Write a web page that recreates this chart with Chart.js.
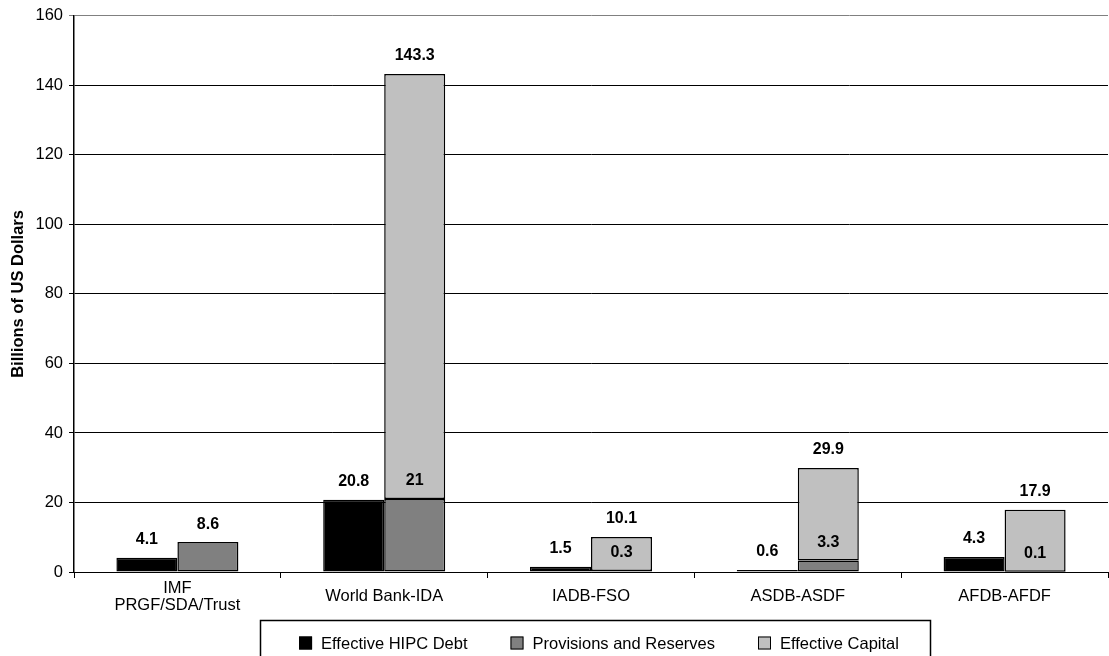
<!DOCTYPE html>
<html lang="en">
<head>
    <meta charset="UTF-8">
    <title>HIPC Debt, Provisions and Capital</title>
    <style>
        body {
            margin: 0;
            background-color: #fff;
        }
        #chart-wrapper {
            width: 1109px;
            height: 656px;
        }
    </style>
</head>
<body>

    <div id="chart-wrapper">
        <canvas id="hipcChart" width="1109" height="656"></canvas>
    </div>

    <script src="https://cdn.jsdelivr.net/npm/chart.js"></script>

    <script>
        // --- Data ---
        const categories = [['IMF', 'PRGF/SDA/Trust'], 'World Bank-IDA', 'IADB-FSO', 'ASDB-ASDF', 'AFDB-AFDF'];
        const hipcDebt = [4.1, 20.8, 1.5, 0.6, 4.3];
        const provisions = [8.6, 21, 0.3, 3.3, 0.1];
        const capital = [0, 122.3, 9.8, 26.6, 17.8];
        const yTicks = [0, 20, 40, 60, 80, 100, 120, 140, 160];

        const FONT = "'Liberation Sans', Arial, Helvetica, sans-serif";

        // Value labels: debt and provisions show their own value,
        // the capital segment shows the stack total on top.
        const barLabels = {
            id: 'barLabels',
            afterDatasetsDraw(chart) {
                const ctx = chart.ctx;
                ctx.save();
                ctx.font = 'bold 16px ' + FONT;
                ctx.fillStyle = '#000';
                ctx.textAlign = 'center';
                ctx.textBaseline = 'middle';
                chart.data.datasets.forEach((ds, di) => {
                    const meta = chart.getDatasetMeta(di);
                    meta.data.forEach((el, i) => {
                        let v = ds.data[i];
                        if (di === 2) {
                            if (!v) return;
                            v = Math.round((provisions[i] + v) * 10) / 10;
                        }
                        ctx.fillText(String(v), el.x, el.y - 18);
                    });
                });
                ctx.restore();
            }
        };

        // Boxed legend under the axis, like the original
        const boxLegend = {
            id: 'boxLegend',
            afterDraw(chart) {
                const ctx = chart.ctx;
                const sw = 13, gap = 9, spacing = 43;
                ctx.save();
                ctx.font = '16.5px ' + FONT;
                const items = chart.data.datasets.map(ds => ({
                    label: ds.label,
                    color: ds.backgroundColor,
                    w: sw + gap + ctx.measureText(ds.label).width
                }));
                const total = items.reduce((s, it) => s + it.w, 0) + spacing * (items.length - 1);
                let x = 599 - total / 2;
                const y = 643;

                ctx.strokeStyle = '#000';
                ctx.lineWidth = 1.5;
                ctx.strokeRect(260.5, 620.5, 670, 60);

                ctx.textBaseline = 'middle';
                ctx.textAlign = 'left';
                items.forEach(it => {
                    ctx.fillStyle = it.color;
                    ctx.fillRect(x, y - sw / 2, sw, sw);
                    ctx.lineWidth = 1;
                    ctx.strokeRect(x + 0.5, y - sw / 2 + 0.5, sw - 1, sw - 1);
                    ctx.fillStyle = '#000';
                    ctx.fillText(it.label, x + sw + gap, y + 1);
                    x += it.w + spacing;
                });
                ctx.restore();
            }
        };

        const ctx = document.getElementById('hipcChart').getContext('2d');
        const hipcChart = new Chart(ctx, {
            type: 'bar',
            data: {
                labels: categories,
                datasets: [
                    {
                        label: 'Effective HIPC Debt',
                        data: hipcDebt,
                        backgroundColor: '#000000',
                        stack: 'debt'
                    },
                    {
                        label: 'Provisions and Reserves',
                        data: provisions,
                        backgroundColor: '#808080',
                        stack: 'resources'
                    },
                    {
                        label: 'Effective Capital',
                        data: capital,
                        backgroundColor: '#c0c0c0',
                        stack: 'resources'
                    }
                ]
            },
            options: {
                responsive: false,
                animation: false,
                layout: {
                    padding: { top: 15, right: 1, bottom: 37, left: 2 }
                },
                datasets: {
                    bar: {
                        borderColor: '#000',
                        borderWidth: 1.5,
                        borderSkipped: false,
                        barPercentage: 1,
                        categoryPercentage: 0.59
                    }
                },
                plugins: {
                    legend: { display: false },
                    tooltip: { enabled: false }
                },
                scales: {
                    x: {
                        stacked: true,
                        afterFit(scale) { scale.height = 47; },
                        border: { display: true, color: '#000', width: 1 },
                        grid: {
                            offset: true,
                            drawOnChartArea: false,
                            drawTicks: true,
                            tickLength: 6,
                            color: '#000'
                        },
                        ticks: {
                            color: '#000',
                            padding: 10,
                            crossAlign: 'center',
                            maxRotation: 0,
                            font: { family: FONT, size: 16.5, lineHeight: 1.05 }
                        }
                    },
                    y: {
                        stacked: true,
                        min: 0,
                        max: 160,
                        afterFit(scale) { scale.width = 72; },
                        afterBuildTicks(scale) {
                            scale.ticks = yTicks.map(v => ({ value: v }));
                        },
                        border: { display: true, color: '#000', width: 1.5 },
                        grid: {
                            color: ctx => ctx.tick && ctx.tick.value === 160 ? '#808080' : '#000',
                            lineWidth: 1,
                            tickLength: 5
                        },
                        ticks: {
                            color: '#000',
                            padding: 6,
                            font: { family: FONT, size: 16.5 }
                        },
                        title: {
                            display: true,
                            text: 'Billions of US Dollars',
                            color: '#000',
                            padding: { top: 7, bottom: 0 },
                            font: { family: FONT, size: 16.5, weight: 'bold' }
                        }
                    }
                }
            },
            plugins: [barLabels, boxLegend]
        });
    </script>
</body>
</html>
